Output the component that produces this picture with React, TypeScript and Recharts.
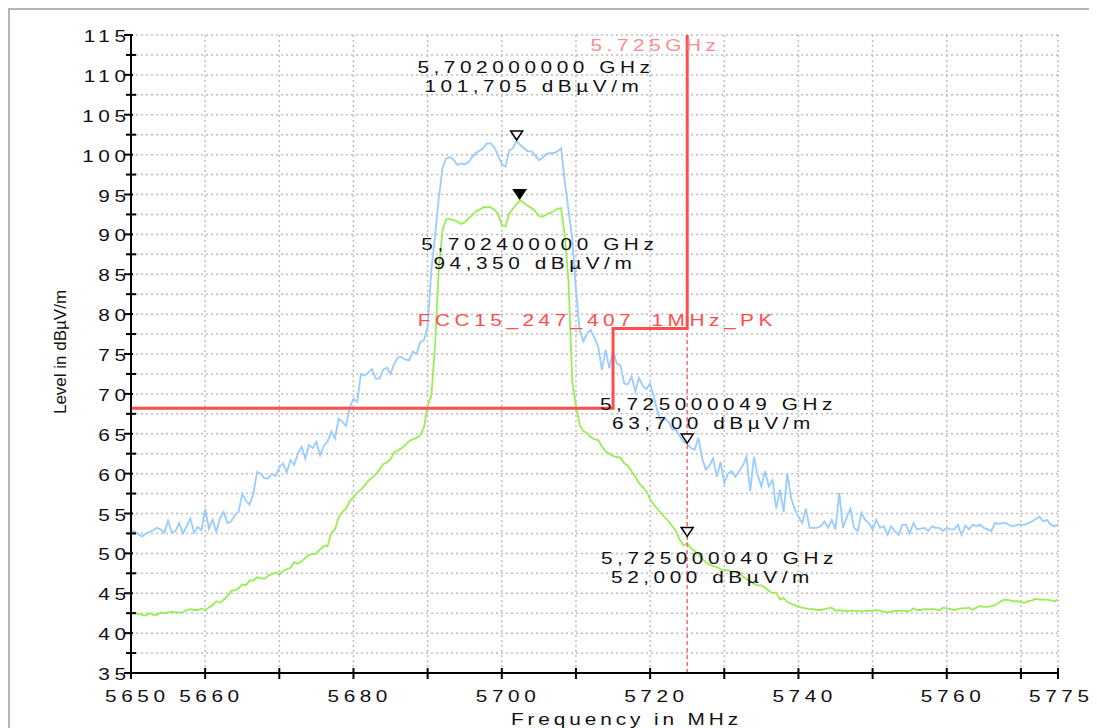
import { CartesianGrid, Line, LineChart, ReferenceDot, ReferenceLine, XAxis, YAxis } from "recharts"

// sweep starts at 5650 MHz, one reading every 0.5 MHz up to 5775 MHz
const startMHz = 5650
const stepMHz = 0.5

// peak detector trace (blue), dBµV/m
const peakTrace = [
  52.9, 52.7, 52.4, 52.1, 52.5, 52.7, 52.9, 53.2, 53.0, 52.6,
  54.1, 52.6, 52.8, 53.8, 52.5, 53.4, 54.4, 52.6, 53.3, 52.9,
  55.6, 53.1, 54.2, 52.7, 54.4, 55.2, 53.8, 54.0, 54.8, 55.2,
  57.5, 56.6, 56.1, 57.5, 60.2, 60.0, 59.4, 59.4, 60.0, 59.7,
  60.8, 61.3, 60.2, 61.7, 61.1, 62.5, 63.4, 61.9, 63.6, 63.2,
  64.0, 62.3, 63.5, 64.0, 65.3, 64.4, 66.9, 66.5, 66.0, 68.3,
  69.4, 69.0, 72.5, 72.3, 72.7, 73.1, 71.9, 71.9, 73.0, 73.3,
  72.5, 73.8, 74.6, 74.6, 74.3, 74.2, 75.3, 75.0, 76.5, 76.7,
  78.5, 85.5, 89.8, 94.5, 98.3, 99.5, 99.7, 99.4, 98.7, 98.9,
  98.8, 99.0, 99.7, 100.2, 100.5, 100.8, 101.4, 101.4, 100.9, 99.9,
  98.8, 98.5, 100.5, 100.8, 101.7, 101.2, 100.8, 100.4, 100.4, 99.9,
  99.3, 99.6, 100.1, 100.2, 100.2, 100.4, 100.8, 96.5, 93.0, 89.5,
  83.0, 78.0, 76.6, 77.6, 78.0, 77.0, 75.9, 73.0, 75.5, 73.2,
  75.5, 73.8, 73.6, 71.3, 71.2, 72.2, 70.3, 72.0, 71.0, 70.6,
  71.3, 69.6, 67.8, 66.5, 66.9, 66.5, 65.5, 65.5, 64.7, 64.0,
  63.7, 63.2, 63.0, 64.5, 62.0, 60.5, 61.0, 61.9, 59.6, 61.5,
  58.8, 60.0, 60.3, 59.6, 60.3, 61.0, 62.1, 57.8, 62.1, 59.8,
  58.4, 60.3, 58.4, 59.2, 55.6, 58.0, 55.2, 60.0, 57.0, 55.5,
  54.6, 53.8, 55.6, 53.2, 53.2, 53.2, 53.4, 54.0, 53.2, 54.2,
  53.0, 57.6, 53.2, 54.5, 55.6, 53.2, 52.8, 55.1, 54.2, 53.8,
  53.0, 54.2, 53.2, 53.4, 52.3, 53.4, 52.8, 52.3, 53.6, 53.6,
  52.5, 53.8, 53.0, 53.1, 53.2, 52.8, 53.4, 53.2, 53.2, 52.8,
  53.2, 53.0, 53.0, 53.6, 52.3, 53.5, 53.0, 53.6, 53.4, 53.6,
  53.2, 53.0, 52.8, 53.8, 53.7, 53.8, 53.8, 53.5, 53.4, 53.6,
  53.6, 53.6, 53.8, 54.0, 54.3, 54.6, 54.0, 54.2, 53.6, 53.4,
  53.6,
]

// average detector trace (green), dBµV/m
const avgTrace = [
  42.5, 42.5, 42.4, 42.3, 42.2, 42.5, 42.3, 42.3, 42.6, 42.5,
  42.6, 42.7, 42.6, 42.6, 42.6, 42.9, 43.0, 42.9, 42.9, 43.1,
  42.9, 43.2, 43.5, 44.0, 43.8, 44.2, 44.6, 45.3, 45.4, 45.6,
  46.1, 46.0, 46.6, 46.6, 47.0, 46.9, 46.8, 47.2, 47.4, 47.6,
  47.4, 47.8, 48.0, 48.2, 48.9, 48.7, 49.0, 49.4, 49.8, 49.9,
  50.0, 50.5, 50.9, 50.9, 52.6, 53.0, 54.5, 55.2, 55.6, 56.6,
  57.0, 57.6, 58.0, 58.5, 59.1, 59.5, 59.9, 60.5, 61.2, 61.4,
  61.8, 62.7, 62.9, 63.2, 63.6, 64.1, 64.3, 64.5, 64.8, 65.8,
  68.5, 69.8, 76.0, 85.5, 90.5, 91.9, 91.9, 91.8, 91.6, 91.3,
  91.5, 92.0, 92.4, 92.9, 93.1, 93.4, 93.4, 93.4, 93.1, 92.6,
  91.2, 91.0, 92.6, 93.2, 93.8, 94.3, 93.9, 93.6, 93.3, 92.9,
  92.3, 92.2, 92.5, 92.7, 92.9, 93.2, 93.3, 89.8, 84.0, 71.5,
  68.6, 66.1, 65.3, 65.1, 64.6, 64.3, 64.2, 63.4, 62.8, 62.5,
  62.2, 62.1, 62.0, 61.3, 61.0, 60.3, 59.6, 58.8, 58.3, 57.8,
  56.8, 56.1, 55.6, 55.0, 54.5, 54.0, 53.4, 52.8, 51.7, 51.0,
  51.3, 50.6, 50.3, 49.9, 49.3, 48.9, 48.6, 48.4, 48.3, 48.0,
  47.9, 47.9, 47.7, 47.7, 47.6, 47.1, 46.8, 46.5, 46.2, 46.0,
  46.0, 45.7, 45.3, 45.0, 45.1, 44.2, 44.4, 43.9, 43.7, 43.5,
  43.3, 43.2, 43.1, 43.0, 43.0, 42.9, 42.9, 43.0, 43.1, 43.2,
  42.8, 42.9, 42.8, 42.8, 42.8, 42.8, 42.8, 42.7, 42.8, 42.8,
  42.8, 42.9, 42.8, 42.7, 42.6, 42.7, 42.8, 42.8, 42.8, 42.8,
  42.7, 43.1, 42.9, 42.9, 43.0, 43.0, 43.0, 43.0, 42.8, 43.2,
  43.1, 43.0, 42.9, 43.0, 43.1, 43.1, 43.2, 42.9, 43.2, 43.4,
  43.3, 43.3, 43.4, 43.5, 43.8, 44.1, 44.2, 44.1, 44.0, 44.0,
  43.9, 43.8, 44.0, 44.1, 44.3, 44.2, 44.2, 44.2, 44.1, 44.0,
  44.2,
]

// FCC 15.247 limit line
const limitFreqs = [5650, 5715, 5715, 5725, 5725]
const limitLevels = [68.2, 68.2, 78.2, 78.2, 115]
const limitName = "FCC15_247_407_1MHz_PK"
const bandEdgeMHz = 5725
const bandEdgeText = "5.725GHz"

const xTicks = [5650, 5660, 5670, 5680, 5690, 5700, 5710, 5720, 5730, 5740, 5750, 5760, 5770, 5775]
const xLabels = [5650, 5660, 5680, 5700, 5720, 5740, 5760, 5775]
const yTicks = [
  35, 37.5, 40, 42.5, 45, 47.5, 50, 52.5, 55, 57.5, 60, 62.5, 65, 67.5, 70, 72.5, 75, 77.5, 80,
  82.5, 85, 87.5, 90, 92.5, 95, 97.5, 100, 102.5, 105, 107.5, 110, 112.5, 115,
]

const markerFreqs = [5702.0, 5702.4, 5725.000049, 5725.00004]
const markerLevels = [101.705, 94.35, 63.7, 52.0]
const markerFreqText = ["5,702000000 GHz", "5,702400000 GHz", "5,725000049 GHz", "5,725000040 GHz"]
const markerLevelText = ["101,705 dBµV/m", "94,350 dBµV/m", "63,700 dBµV/m", "52,000 dBµV/m"]
const markerFilled = [false, true, false, false]

// where each marker readout sits relative to its triangle (glyph centre, baseline)
const readoutLayout = [
  { dx1: 17, dx2: 15, dy1: -68, dy2: -49 },
  { dx1: 18, dx2: 13, dy1: 50, dy2: 69 },
  { dx1: 29, dx2: 24, dy1: -34, dy2: -15 },
  { dx1: 30, dx2: 23, dy1: 27, dy2: 46 },
]

const font = "'Liberation Sans', Arial, sans-serif"

// the analyser draws its labels in a wide, spaced-out face: stretch Arial horizontally
function WideText({ x, y, anchor = "middle", fill = "#111", spacing = 3.5, stretch = 1.3, children }: any) {
  // shift so the glyphs (not the trailing letter spacing) sit on the anchor
  const shift = anchor === "middle" ? (spacing * stretch) / 2 : anchor === "end" ? spacing * stretch : 0
  return (
    <text
      transform={`translate(${x + shift},${y}) scale(${stretch},1)`}
      textAnchor={anchor}
      fontSize={16}
      fontFamily={font}
      letterSpacing={spacing}
      fill={fill}
    >
      {children}
    </text>
  )
}

const rows = peakTrace.map((v, i) => ({ f: startMHz + i * stepMHz, peak: v, avg: avgTrace[i] }))
const limitRows = limitFreqs.map((f, i) => ({ f, limit: limitLevels[i] }))

function XTick(props: any) {
  const { x, y, payload } = props
  const v = payload.value
  const last = v === 5775
  return (
    <g>
      <line x1={x} x2={x} y1={y - 5} y2={y + 6} stroke="#000" strokeWidth={2} />
      {xLabels.includes(v) && (
        <WideText x={x + (last ? 1 : 4)} y={y + 29}>
          {v}
        </WideText>
      )}
    </g>
  )
}

function YTick(props: any) {
  const { x, y, payload } = props
  const v = payload.value
  const major = v % 5 === 0
  return (
    <g>
      <line x1={major ? x - 7 : x - 5} x2={major ? x + 2 : x + 5} y1={y} y2={y} stroke="#000" strokeWidth={2} />
      {major && (
        <WideText x={x - 5} y={y + 7} anchor="end">
          {v}
        </WideText>
      )}
    </g>
  )
}

function MarkerGlyph({ cx, cy, i }: any) {
  const lay = readoutLayout[i]
  return (
    <g>
      <polygon
        points={`${cx - 6},${cy - 10} ${cx + 6},${cy - 10} ${cx},${cy - 1}`}
        fill={markerFilled[i] ? "#000" : "#fff"}
        stroke="#000"
        strokeWidth={1.5}
      />
      <WideText x={cx + lay.dx1} y={cy + lay.dy1}>
        {markerFreqText[i]}
      </WideText>
      <WideText x={cx + lay.dx2} y={cy + lay.dy2}>
        {markerLevelText[i]}
      </WideText>
    </g>
  )
}

export default function App() {
  return (
    <div style={{ width: 1087, height: 718, borderTop: "2px solid #b4b4b4", borderLeft: "2px solid #b4b4b4", background: "#fff" }}>
      <style>{`body{overflow:hidden}`}</style>
      <LineChart width={1087} height={718} data={rows} margin={{ top: 25, right: 39, left: 0, bottom: 0 }}>
        <CartesianGrid stroke="#bdbdbd" strokeWidth={1.5} strokeDasharray="2 3" />
        <XAxis
          dataKey="f"
          type="number"
          domain={[5650, 5775]}
          ticks={xTicks}
          interval={0}
          height={55}
          tickSize={0}
          tickMargin={0}
          tickLine={false}
          axisLine={{ stroke: "#000", strokeWidth: 2 }}
          tick={XTick}
          label={({ viewBox }: any) => (
            <WideText x={viewBox.x + viewBox.width / 2 + 30} y={viewBox.y + 52} spacing={3}>
              Frequency in MHz
            </WideText>
          )}
        />
        <YAxis
          type="number"
          domain={[35, 115]}
          ticks={yTicks}
          interval={0}
          width={121}
          tickSize={0}
          tickMargin={0}
          tickLine={false}
          axisLine={{ stroke: "#000", strokeWidth: 2 }}
          tick={YTick}
          label={({ viewBox }: any) => {
            const lx = viewBox.x + 56
            const ly = viewBox.y + viewBox.height / 2 - 2
            return (
              <text x={lx} y={ly} transform={`rotate(-90, ${lx}, ${ly})`} textAnchor="middle" fontSize={17} fontFamily={font} fill="#111">
                Level in dBµV/m
              </text>
            )
          }}
        />
        <Line dataKey="avg" stroke="#99ee55" strokeWidth={1.8} dot={false} isAnimationActive={false} />
        <Line dataKey="peak" stroke="#99ccff" strokeWidth={1.8} dot={false} isAnimationActive={false} />
        <ReferenceLine x={bandEdgeMHz} stroke="#ff6a6a" strokeWidth={1.5} strokeDasharray="4 3" />
        <Line data={limitRows} dataKey="limit" stroke="#ff4d4d" strokeWidth={3} dot={false} isAnimationActive={false} />
        <ReferenceDot
          x={limitFreqs[1]}
          y={limitLevels[2]}
          r={0}
          shape={({ cx, cy }: any) => (
            <WideText x={cx - 18} y={cy - 2} fill="#ff4d4d">
              {limitName}
            </WideText>
          )}
        />
        <ReferenceDot
          x={bandEdgeMHz}
          y={115}
          r={0}
          shape={({ cx, cy }: any) => (
            <WideText x={cx - 34} y={cy + 16} fill="#ff8c8c">
              {bandEdgeText}
            </WideText>
          )}
        />
        {markerFreqs.map((f, i) => (
          <ReferenceDot key={i} x={f} y={markerLevels[i]} r={0} shape={(p: any) => <MarkerGlyph {...p} i={i} />} />
        ))}
      </LineChart>
    </div>
  )
}
